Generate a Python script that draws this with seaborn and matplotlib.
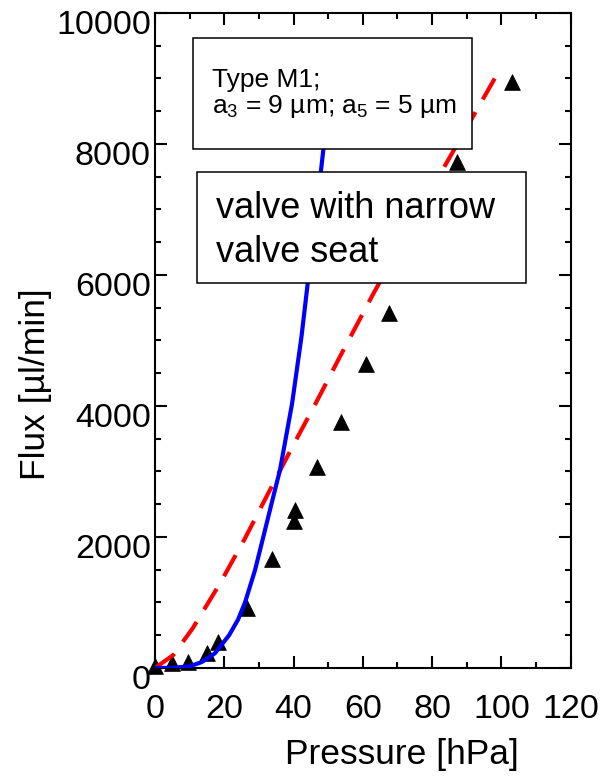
import matplotlib
matplotlib.use('Agg')
import matplotlib.pyplot as plt
import matplotlib.transforms as mtransforms
from matplotlib.patches import Rectangle
from matplotlib.ticker import MultipleLocator
import seaborn as sns

# measured points (triangles)
meas_pressure = [0, 4.8, 9.6, 15.1, 18.3, 26.5, 33.9, 40.2, 40.5, 46.9, 53.6, 60.9, 67.5, 87.3, 103.1]
meas_flux = [30, 75, 95, 225, 400, 910, 1660, 2245, 2410, 3075, 3760, 4635, 5415, 7730, 8950]

# red dashed model
red_pressure = [0, 5.3, 10.9, 18.8, 26.0, 32.7, 39.6, 46.5, 53.4, 63.1, 83.3, 99.7]
red_flux = [0, 198, 606, 1293, 1980, 2667, 3370, 4050, 4753, 5720, 7630, 9150]

# blue solid model
blue_pressure = [0, 5, 10, 13.5, 17.3, 21.4, 24.0, 26.0, 28.9, 31.3, 33.8, 36.1, 39.6, 42.3, 44.1, 47.9, 52.0]
blue_flux = [0, 3, 25, 90, 224, 500, 740, 1000, 1496, 2005, 2540, 3023, 4041, 5058, 5873, 7580, 9500]

x_ticks = [0, 20, 40, 60, 80, 100, 120]
y_ticks = [0, 2000, 4000, 6000, 8000, 10000]

sns.set_style('ticks')
plt.rcParams['font.family'] = ['Liberation Sans', 'DejaVu Sans']
plt.rcParams['mathtext.fontset'] = 'custom'
plt.rcParams['mathtext.rm'] = 'Liberation Sans'
plt.rcParams['mathtext.it'] = 'Liberation Sans:italic'
plt.rcParams['text.color'] = 'black'
plt.rcParams['axes.labelcolor'] = 'black'
plt.rcParams['xtick.color'] = 'black'
plt.rcParams['ytick.color'] = 'black'
plt.rcParams['axes.edgecolor'] = 'black'

fig = plt.figure(figsize=(6.1, 7.77), dpi=100)
ax = fig.add_axes([0.254, 0.1403, 0.6815, 0.843])

sns.scatterplot(x=meas_pressure, y=meas_flux, marker='^', s=130, color='black',
                edgecolor='black', linewidth=0.5, ax=ax, zorder=2, clip_on=False)
sns.lineplot(x=red_pressure, y=red_flux, color='red', lw=3, linestyle=(0, (5.8, 3.5)),
             ax=ax, zorder=3, estimator=None, sort=False)
sns.lineplot(x=blue_pressure, y=blue_flux, color='blue', lw=3, ax=ax, zorder=4,
             estimator=None, sort=False, solid_joinstyle='round', solid_capstyle='round')

ax.set_xlim(0, 120)
ax.set_ylim(0, 10000)
ax.set_xticks(x_ticks)
ax.set_yticks(y_ticks)
ax.xaxis.set_minor_locator(MultipleLocator(10))
ax.yaxis.set_minor_locator(MultipleLocator(500))
ax.tick_params(which='both', direction='in', top=True, right=True, width=1.5, color='black',
               labelcolor='black')
ax.tick_params(which='major', length=8.6)
ax.tick_params(which='minor', length=4.5)
ax.tick_params(axis='x', which='major', labelsize=24.5, pad=19)
ax.tick_params(axis='y', which='major', labelsize=24.5, pad=3)
for sp in ax.spines.values():
    sp.set_linewidth(1.5)
    sp.set_color('black')

off = mtransforms.ScaledTranslation(0, -9 / 100, fig.dpi_scale_trans)
for lbl in ax.get_yticklabels():
    lbl.set_transform(lbl.get_transform() + off)

ax.set_xlabel('Pressure [hPa]', fontsize=25.5, color='black')
ax.xaxis.set_label_coords(0.594, -0.1328)
ax.xaxis.label.set_va('center')
ax.set_ylabel('Flux [µl/min]', fontsize=25.5, color='black')
ax.yaxis.set_label_coords(-0.2875, 0.4336)
ax.yaxis.label.set_va('center')
ax.yaxis.label.set_ha('center')

# annotation boxes
ax.add_patch(Rectangle((0.0907, 0.792), 0.762 - 0.0907, 0.962 - 0.792, transform=ax.transAxes,
                       facecolor='white', edgecolor='black', lw=1.1, zorder=5))
ax.text(0.137, 0.8866, 'Type M1;', transform=ax.transAxes, fontsize=19, va='baseline', ha='left',
        zorder=6, color='black')
ax.text(0.137, 0.8468, r'a$_\mathregular{3}$ = 9 µm; a$_\mathregular{5}$ = 5 µm', transform=ax.transAxes,
        fontsize=19, va='baseline', ha='left', zorder=6, color='black')

ax.add_patch(Rectangle((0.100, 0.587), 0.892 - 0.100, 0.757 - 0.587, transform=ax.transAxes,
                       facecolor='white', edgecolor='black', lw=1.1, zorder=5))
ax.text(0.148, 0.6866, 'valve with narrow', transform=ax.transAxes, fontsize=26, va='baseline',
        ha='left', zorder=6, color='black')
ax.text(0.148, 0.6203, 'valve seat', transform=ax.transAxes, fontsize=26, va='baseline',
        ha='left', zorder=6, color='black')

fig.savefig('out.png', dpi=100)
